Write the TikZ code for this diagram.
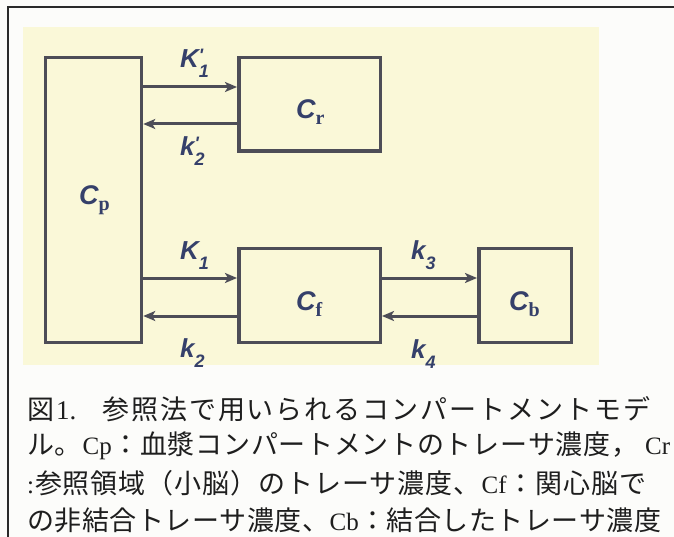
\documentclass[tikz,border=0pt]{standalone}
\usepackage{fontspec}
\setmainfont{Liberation Serif}
\newfontfamily\jpfont{Noto Sans CJK JP}
\newfontfamily\latfont{Liberation Serif}
\newfontfamily\labfont{Liberation Sans}
\usetikzlibrary{arrows.meta}
\definecolor{boxc}{HTML}{4D4D57}
\definecolor{labc}{HTML}{35406A}
\definecolor{yel}{HTML}{FAF8D8}
\definecolor{paper}{HTML}{FCFCFA}
\definecolor{ink}{HTML}{1E1E1E}
\definecolor{framec}{HTML}{2A2A2A}

\makeatletter
\newcommand\spreadline[2]{\hbox to #1{\def\spsep{}\@tfor\spx:=#2\do{\spsep\spx\def\spsep{\hfil}}}}
\makeatother

\newcommand\klab[3]{{\fontsize{26}{26}\selectfont #1}\rlap{\raisebox{6pt}{\fontsize{18}{18}\selectfont #3}}\raisebox{-10pt}{\fontsize{18}{18}\selectfont #2}}
\newcommand\clab[1]{{\fontsize{27}{27}\selectfont C}\raisebox{-6pt}{\latfont\upshape\bfseries\fontsize{20}{20}\selectfont #1}}

\tikzset{
  box/.style={draw=boxc, line width=3.5pt, rectangle, inner sep=0pt},
  arr/.style={draw=boxc, line width=3pt, -{Stealth[length=12pt,width=10pt,inset=3pt]}},
  lab/.style={text=labc, font=\labfont\bfseries\itshape, inner sep=0pt, anchor=base west},
  captext/.style={text=ink, font=\jpfont\fontsize{27}{27}\selectfont, inner sep=0pt, anchor=west},
  framel/.style={draw=framec, line width=1.5pt}
}

\begin{document}
\begin{tikzpicture}[x=1pt,y=-1pt]
\useasboundingbox (0,0) rectangle (674,537);
\fill[paper] (0,0) rectangle (674,537);
\fill[yel] (23,27) rectangle (599,365);
\draw[framel] (8,537) -- (8,7) -- (674,7);

% boxes
\node[box, minimum width=96pt, minimum height=285pt] (Cp) at (93.5,200) {};
\node[box, minimum width=141.5pt, minimum height=93.5pt] (Cr) at (309.5,104.5) {};
\node[box, minimum width=141.5pt, minimum height=93.5pt] (Cf) at (309.5,295.5) {};
\node[box, minimum width=92.5pt, minimum height=93.5pt] (Cb) at (525,295.5) {};

% box labels
\node[lab] (lCp) at (79,205) {\clab{p}};
\node[lab] (lCr) at (296,119) {\clab{r}};
\node[lab] (lCf) at (296,310) {\clab{f}};
\node[lab] (lCb) at (509,310) {\clab{b}};

% arrow levels
\coordinate (a1) at (0,87);
\coordinate (a2) at (0,124);
\coordinate (a3) at (0,278);
\coordinate (a4) at (0,316);

\draw[arr] (Cp.east |- a1) -- (Cr.west |- a1);
\draw[arr] (Cr.west |- a2) -- (Cp.east |- a2);
\draw[arr] (Cp.east |- a3) -- (Cf.west |- a3);
\draw[arr] (Cf.west |- a4) -- (Cp.east |- a4);
\draw[arr] (Cf.east |- a3) -- (Cb.west |- a3);
\draw[arr] (Cb.west |- a4) -- (Cf.east |- a4);

% rate labels
\node[lab] (k1p) at (180,68) {\klab{K}{1}{'}};
\node[lab] (k2p) at (180,156) {\klab{k}{2}{'}};
\node[lab] (k1) at (180,259) {\klab{K}{1}{}};
\node[lab] (k2) at (180,357) {\klab{k}{2}{}};
\node[lab] (k3) at (411,259) {\klab{k}{3}{}};
\node[lab] (k4) at (411,358) {\klab{k}{4}{}};

% caption
\node[captext] (c1) at (27,409) {\spreadline{623pt}{図{{\latfont 1.}}{{\hspace*{22pt}}}参照法で用いられるコンパートメントモデ}};
\node[captext] (c2) at (27,446) {\spreadline{643pt}{ル。{{\latfont\fontsize{25}{25}\selectfont Cp}}：血漿コンパートメントのトレーサ濃度，{{\latfont\fontsize{25}{25}\selectfont\ Cr}}}};
\node[captext] (c3) at (27,483) {\spreadline{619pt}{{{\latfont\fontsize{25}{25}\selectfont :}}参照領域（小脳）のトレーサ濃度、{{\latfont\fontsize{25}{25}\selectfont Cf}}：関心脳で}};
\node[captext] (c4) at (27,520) {\spreadline{634pt}{の非結合トレーサ濃度、{{\latfont\fontsize{25}{25}\selectfont Cb}}：結合したトレーサ濃度}};
\end{tikzpicture}
\end{document}
